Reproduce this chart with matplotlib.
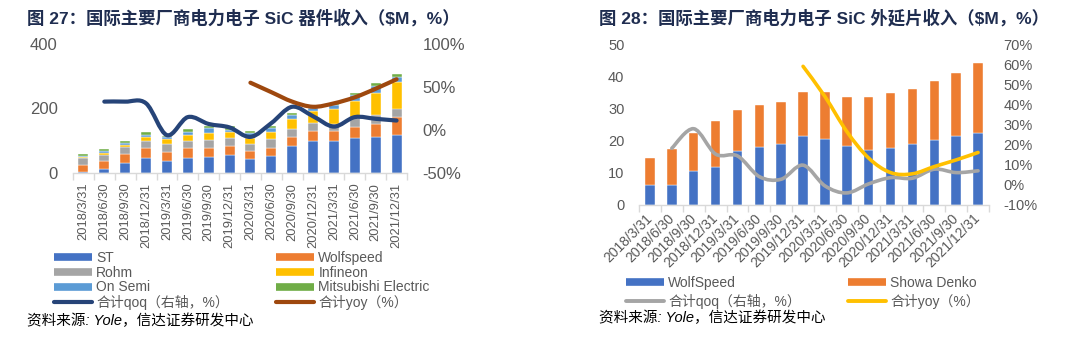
import matplotlib
matplotlib.use('Agg')
import matplotlib.pyplot as plt
from matplotlib.path import Path
from matplotlib.patches import PathPatch
from matplotlib.lines import Line2D
from matplotlib.ticker import FuncFormatter
import numpy as np

plt.rcParams['font.family'] = ['Liberation Sans', 'Noto Sans CJK SC']

# ---------------- data ----------------
dates = ['2018/3/31', '2018/6/30', '2018/9/30', '2018/12/31',
         '2019/3/31', '2019/6/30', '2019/9/30', '2019/12/31',
         '2020/3/31', '2020/6/30', '2020/9/30', '2020/12/31',
         '2021/3/31', '2021/6/30', '2021/9/30', '2021/12/31']

# Chart 27: SiC device revenue ($M)
st = [3, 12, 32, 48, 37, 48, 50, 57, 42, 52, 85, 98, 100, 107, 112, 119]
wolfspeed = [22, 25, 26, 28, 29, 28, 28, 26, 25, 27, 26, 31, 31, 35, 41, 54]
rohm = [20, 19, 23, 22, 25, 24, 24, 24, 24, 25, 26, 27, 22, 28, 26, 27]
infineon = [5, 7, 7, 13, 14, 18, 21, 19, 16, 24, 29, 35, 44, 53, 69, 81]
onsemi = [2, 5, 5, 8, 6, 10, 16, 7, 16, 12, 13, 10, 14, 18, 21, 18]
mitsubishi = [7, 7, 6, 8, 5, 7, 7, 13, 7, 5, 6, 9, 7, 8, 10, 8]
qoq1 = [None, 33, 33, 31, -6, 15, 7, 3, -8, 8, 27, 16, 4, 15, 13, 11]
yoy1 = [None, None, None, None, None, None, None, None,
        55, 44, 33, 27, 31, 38, 48, 59]

# Chart 28: SiC epitaxial wafer revenue ($M)
wolfspeed2 = [6.2, 6.2, 10.6, 11.9, 16.8, 18.0, 19.0, 21.5,
              20.4, 18.2, 17.2, 17.6, 19.0, 20.3, 21.5, 22.3]
showa = [8.5, 11.2, 11.7, 14.1, 12.8, 13.0, 13.1, 13.7,
         14.7, 15.3, 16.4, 17.3, 16.9, 18.2, 19.6, 21.8]
qoq2 = [None, 18.2, 27.9, 15.3, 14.4, 4.1, 2.8, 9.8,
        -0.5, -4.0, 0.5, 3.6, 3.3, 7.8, 6.1, 7.0]
yoy2 = [None, None, None, None, None, None, None,
        58.9, 43.9, 26.5, 13.3, 6.1, 5.5, 9.1, 12.4, 16.1]

# ---------------- style ----------------
C_BLUE = '#4472C4'
C_ORANGE = '#ED7D31'
C_GRAY = '#A5A5A5'
C_YELLOW = '#FFC000'
C_LBLUE = '#5B9BD5'
C_GREEN = '#70AD47'
C_NAVY = '#264478'
C_BROWN = '#9E480E'
TXT = '#595959'
AXC = '#D9D9D9'
TITLE_C = '#1F2D50'

W, H = 1077, 352
fig = plt.figure(figsize=(W / 100, H / 100), dpi=100)


def fx(px):
    return px / W


def fy(py):
    return 1 - py / H


def smooth_path(vals):
    pts = np.array([(i, v) for i, v in enumerate(vals) if v is not None], dtype=float)
    n = len(pts)
    verts = [pts[0]]
    codes = [Path.MOVETO]
    for i in range(n - 1):
        p0 = pts[i - 1] if i > 0 else pts[i]
        p1 = pts[i]
        p2 = pts[i + 1]
        p3 = pts[i + 2] if i + 2 < n else pts[i + 1]
        c1 = p1 + (p2 - p0) / 6.0
        c2 = p2 - (p3 - p1) / 6.0
        verts += [c1, c2, p2]
        codes += [Path.CURVE4] * 3
    return Path(verts, codes)


def style_axes(ax, axb, xlabel_rot, xfont, yfont, xpad, ypad):
    for a in (ax, axb):
        for s in a.spines.values():
            s.set_visible(False)
    ax.spines['bottom'].set_visible(True)
    ax.spines['bottom'].set_color(AXC)
    ax.spines['bottom'].set_linewidth(1.0)
    x = np.arange(len(dates))
    ax.set_xlim(-0.5, len(dates) - 0.5)
    ax.set_xticks(x)
    if xlabel_rot == 90:
        ax.set_xticklabels(dates, rotation=90, fontsize=xfont, color=TXT)
    else:
        ax.set_xticklabels(dates, rotation=45, ha='right', va='center',
                           rotation_mode='anchor', fontsize=xfont, color=TXT)
    ax.set_xticks(np.arange(-0.5, len(dates), 1), minor=True)
    ax.tick_params(axis='x', which='major', length=0, pad=xpad)
    ax.tick_params(axis='x', which='minor', length=5, color=AXC, width=1)
    ax.tick_params(axis='y', length=0, labelsize=yfont, labelcolor=TXT, pad=ypad)
    axb.tick_params(axis='y', length=0, labelsize=yfont, labelcolor=TXT, pad=ypad)
    axb.yaxis.set_major_formatter(FuncFormatter(lambda v, p: f'{v:.0f}%'))


# ================= Chart 27 =================
ax1 = fig.add_axes([fx(73), fy(173), fx(334), 129 / H])
ax1b = ax1.twinx()
x = np.arange(len(dates))
bw = 0.48
series1 = [('ST', st, C_BLUE), ('Wolfspeed', wolfspeed, C_ORANGE),
           ('Rohm', rohm, C_GRAY), ('Infineon', infineon, C_YELLOW),
           ('On Semi', onsemi, C_LBLUE), ('Mitsubishi Electric', mitsubishi, C_GREEN)]
bottom = np.zeros(len(dates))
for name, vals, col in series1:
    ax1.bar(x, vals, bw, bottom=bottom, color=col, edgecolor='white',
            linewidth=0.3, label=name, zorder=2)
    bottom += np.array(vals, dtype=float)
ax1.set_ylim(0, 400)
ax1.set_yticks([0, 200, 400])
ax1b.set_ylim(-50, 100)
ax1b.set_yticks([-50, 0, 50, 100])
ax1b.add_patch(PathPatch(smooth_path(qoq1), fill=False, edgecolor=C_NAVY,
                         linewidth=3.0, capstyle='round', joinstyle='round'))
ax1b.add_patch(PathPatch(smooth_path(yoy1), fill=False, edgecolor=C_BROWN,
                         linewidth=3.0, capstyle='round', joinstyle='round'))
style_axes(ax1, ax1b, 90, 9.3, 12, 7, 11)

# ================= Chart 28 =================
ax2 = fig.add_axes([fx(639), fy(205), fx(350), 161 / H])
ax2b = ax2.twinx()
bw2 = 0.43
ax2.bar(x, wolfspeed2, bw2, color=C_BLUE, edgecolor='white', linewidth=0.3,
        label='WolfSpeed', zorder=2)
ax2.bar(x, showa, bw2, bottom=wolfspeed2, color=C_ORANGE, edgecolor='white',
        linewidth=0.3, label='Showa Denko', zorder=2)
ax2.set_ylim(0, 50)
ax2.set_yticks(range(0, 51, 10))
ax2b.set_ylim(-10, 70)
ax2b.set_yticks(range(-10, 71, 10))
ax2b.add_patch(PathPatch(smooth_path(qoq2), fill=False, edgecolor=C_GRAY,
                         linewidth=2.6, capstyle='round', joinstyle='round'))
ax2b.add_patch(PathPatch(smooth_path(yoy2), fill=False, edgecolor=C_YELLOW,
                         linewidth=2.6, capstyle='round', joinstyle='round'))
style_axes(ax2, ax2b, 45, 10, 10.5, 8, 10.5)

# ================= legends =================
def bar_handle(col):
    return Line2D([0], [0], color=col, linewidth=5.5, solid_capstyle='butt')


def line_handle(col, lw=3.0):
    return Line2D([0], [0], color=col, linewidth=lw, solid_capstyle='round')


leg_kw = dict(frameon=False, fontsize=10, handlelength=2.75, handletextpad=0.3,
              borderpad=0, borderaxespad=0, labelcolor=TXT,
              bbox_transform=fig.transFigure, loc='upper left')

lA = fig.legend([bar_handle(C_BLUE), bar_handle(C_GRAY), bar_handle(C_LBLUE), line_handle(C_NAVY)],
                ['ST', 'Rohm', 'On Semi', '合计qoq（右轴，%）'],
                bbox_to_anchor=(fx(54), fy(251)), labelspacing=0.05, **leg_kw)
lB = fig.legend([bar_handle(C_ORANGE), bar_handle(C_YELLOW), bar_handle(C_GREEN), line_handle(C_BROWN)],
                ['Wolfspeed', 'Infineon', 'Mitsubishi Electric', '合计yoy（%）'],
                bbox_to_anchor=(fx(276), fy(251)), labelspacing=0.05, **leg_kw)
lC = fig.legend([bar_handle(C_BLUE), line_handle(C_GRAY, 2.8)],
                ['WolfSpeed', '合计qoq（右轴，%）'],
                bbox_to_anchor=(fx(626), fy(276)), labelspacing=0.3, **leg_kw)
lD = fig.legend([bar_handle(C_ORANGE), line_handle(C_YELLOW, 2.8)],
                ['Showa Denko', '合计yoy（%）'],
                bbox_to_anchor=(fx(848), fy(276)), labelspacing=0.3, **leg_kw)

# ================= titles & sources =================
fig.text(fx(27), fy(18), '图 27：国际主要厂商电力电子 SiC 器件收入（$M，%）',
         fontsize=12.5, fontweight='bold', color=TITLE_C, va='center', ha='left')
fig.text(fx(599), fy(18), '图 28：国际主要厂商电力电子 SiC 外延片收入（$M，%）',
         fontsize=12.5, fontweight='bold', color=TITLE_C, va='center', ha='left')
fig.text(fx(27), fy(321), '资料来源: Yole，信达证券研发中心', fontsize=10.5,
         fontstyle='italic', color='black', va='center', ha='left')
fig.text(fx(599), fy(318), '资料来源: Yole，信达证券研发中心', fontsize=10.5,
         fontstyle='italic', color='black', va='center', ha='left')

fig.savefig('out.png', dpi=100, facecolor='white')
